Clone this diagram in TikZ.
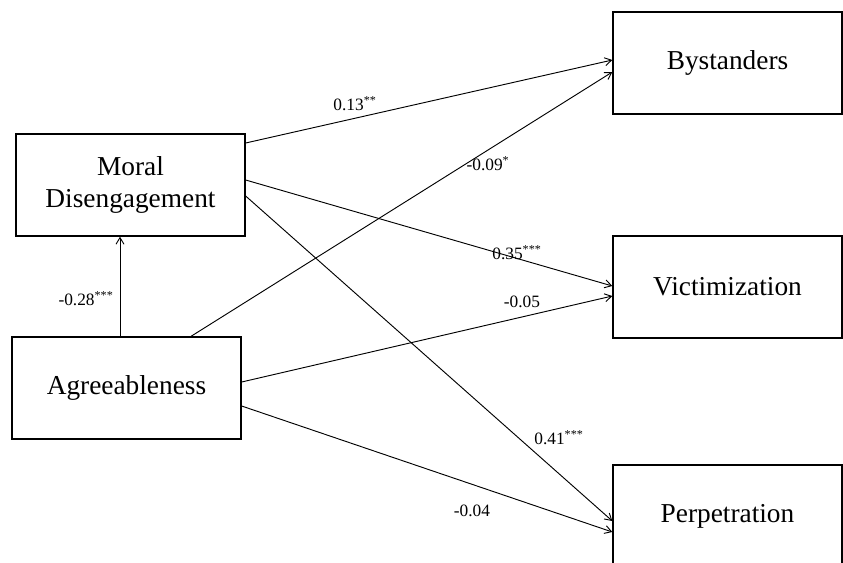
\documentclass[tikz,border=0pt]{standalone}
\usepackage{fontspec}
\setmainfont{Liberation Serif}
\usetikzlibrary{calc,arrows.meta}
\begin{document}
\begin{tikzpicture}[x=0.75pt,y=-0.75pt,
			var/.style={rectangle, draw, line width=1pt, inner sep=0pt, minimum width=171.75pt,
				minimum height=76.5pt, align=center, font=\fontsize{20.5}{24.5}\selectfont},
			eff/.style={line width=0.7pt,->,>={Straight Barb[length=5pt,width=6pt]}, shorten >=0pt,shorten <=0pt},
			coef/.style={inner sep=0pt, font=\fontsize{13}{15}\selectfont}]

			\useasboundingbox (0,0) rectangle (843,562);

			% drawing predictors
			\node[var] (md) at (130.5,185) {Moral\\Disengagement};
			\node[var] (ag) at (126.5,388) {Agreeableness};

			% drawing outcomes
			\node[var] (by) at (727.5,63) {Bystanders};
			\node[var] (vi) at (727.5,287) {Victimization};
			\node[var] (pe) at (727.5,516) {Perpetration};

			% drawing arrows
			\draw[eff] ($(ag.north)+(-6.5,0)$) coordinate (a0) -- (a0 |- md.south);

			\draw[eff] ($(md.east)+(0,-42)$) -- ($(by.west)+(0,-3)$);
			\draw[eff] ($(md.east)+(0,-5)$) -- ($(vi.west)+(0,-1)$);
			\draw[eff] ($(md.east)+(0,11)$) -- ($(pe.west)+(0,5)$);

			\draw[eff] ($(ag.north)+(64.5,0)$) -- ($(by.west)+(0,9)$);
			\draw[eff] ($(ag.east)+(0,-6)$) -- ($(vi.west)+(0,9)$);
			\draw[eff] ($(ag.east)+(0,18)$) -- ($(pe.west)+(0,16)$);

			% drawing coefficients
			\node[coef] (c1) at (86,299) {-0.28\textsuperscript{***}};
			\node[coef] (c2) at (355,104) {0.13\textsuperscript{**}};
			\node[coef] (c3) at (488,164) {-0.09\textsuperscript{*}};
			\node[coef] (c4) at (517,253) {0.35\textsuperscript{***}};
			\node[coef] (c5) at (522,302) {-0.05};
			\node[coef] (c6) at (559,438) {0.41\textsuperscript{***}};
			\node[coef] (c7) at (472,511) {-0.04};

		\end{tikzpicture}
\end{document}
